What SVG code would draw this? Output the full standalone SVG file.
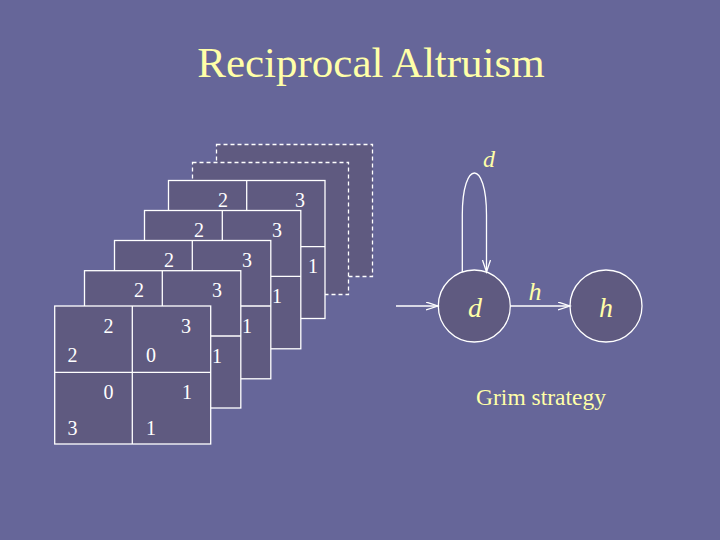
<svg xmlns="http://www.w3.org/2000/svg" width="720" height="540" viewBox="0 0 720 540" font-family="Liberation Serif, Times New Roman, DejaVu Serif, serif">
<defs>
<style>
.bg{fill:#666699}
.box{fill:#5f5a80;stroke:#ffffff;stroke-width:1.3}
.dash{fill:#5f5a80;stroke:#ffffff;stroke-width:1.3;stroke-dasharray:4 3}
.ln{stroke:#ffffff;stroke-width:1.3;fill:none}
.num{font-size:20px;fill:#ffffff;text-anchor:middle}
.lab{font-style:italic;fill:#ffffa8;text-anchor:middle}
.st{fill:#5f5a80;stroke:#ffffff;stroke-width:1.3}
</style>
<marker id="arr" markerUnits="userSpaceOnUse" markerWidth="14" markerHeight="10" refX="12" refY="4" orient="auto">
<path d="M0,0 L12,4 L0,8" fill="none" stroke="#ffffff" stroke-width="1.3"/>
</marker>
</defs>
<rect class="bg" x="0" y="0" width="720" height="540"/>
<text x="371" y="77" font-size="43" fill="#ffffa8" text-anchor="middle">Reciprocal Altruism</text>

<g id="matrix7"><rect class="dash" x="216.5" y="144.5" width="156" height="132"/></g>
<g id="matrix6"><rect class="dash" x="192.5" y="162.5" width="156" height="132"/></g>
<g id="matrix5">
<rect class="box" x="168.5" y="180.5" width="156.5" height="138"/>
<line class="ln" x1="246.7" y1="180.5" x2="246.7" y2="246.7"/>
<line class="ln" x1="246.7" y1="246.7" x2="325" y2="246.7"/>
<text class="num" x="223" y="207">2</text><text class="num" x="300" y="207">3</text><text class="num" x="313" y="273">1</text>
</g>
<g id="matrix4">
<rect class="box" x="144.5" y="210.5" width="156.3" height="138.3"/>
<line class="ln" x1="222.3" y1="210.5" x2="222.3" y2="276.3"/>
<line class="ln" x1="222.3" y1="276.3" x2="300.8" y2="276.3"/>
<text class="num" x="199" y="237">2</text><text class="num" x="277" y="237">3</text><text class="num" x="277" y="303">1</text>
</g>
<g id="matrix3">
<rect class="box" x="114.5" y="240.5" width="156.3" height="138.3"/>
<line class="ln" x1="192.3" y1="240.5" x2="192.3" y2="306"/>
<line class="ln" x1="192.3" y1="306" x2="270.8" y2="306"/>
<text class="num" x="169" y="267">2</text><text class="num" x="247" y="267">3</text><text class="num" x="247" y="333">1</text>
</g>
<g id="matrix2">
<rect class="box" x="84.5" y="270.7" width="156.3" height="137.3"/>
<line class="ln" x1="162.3" y1="270.7" x2="162.3" y2="306"/>
<line class="ln" x1="162.3" y1="336" x2="240.8" y2="336"/>
<text class="num" x="139" y="297">2</text><text class="num" x="217" y="297">3</text><text class="num" x="217" y="363">1</text>
</g>
<g id="matrix1">
<rect class="box" x="54.7" y="306" width="156" height="138"/>
<line class="ln" x1="132.3" y1="306" x2="132.3" y2="444"/>
<line class="ln" x1="54.7" y1="372.3" x2="210.7" y2="372.3"/>
<text class="num" x="108.5" y="333">2</text><text class="num" x="186" y="333">3</text>
<text class="num" x="72.5" y="362">2</text><text class="num" x="151" y="362">0</text>
<text class="num" x="108.5" y="399">0</text><text class="num" x="187" y="399">1</text>
<text class="num" x="72.5" y="435">3</text><text class="num" x="151" y="435">1</text>
</g>

<g id="state-d"><circle class="st" cx="474.3" cy="306" r="36"/><text class="lab" x="475" y="317" font-size="28">d</text></g>
<g id="state-h"><circle class="st" cx="606" cy="306" r="36"/><text class="lab" x="606" y="317" font-size="28">h</text></g>

<g id="connectors">
<line class="ln" x1="396" y1="306" x2="438" y2="306" marker-end="url(#arr)"/>
<line class="ln" x1="510.3" y1="306" x2="570" y2="306" marker-end="url(#arr)"/>
<path class="ln" d="M462.3,272 L462.3,215 C462.3,159 486.5,159 486.5,215 L486.5,272" marker-end="url(#arr)"/>
<text class="lab" x="489" y="167" font-size="24">d</text>
<text class="lab" x="535" y="300" font-size="26">h</text>
</g>
<text x="541" y="405" font-size="23.5" fill="#ffffa8" text-anchor="middle">Grim strategy</text>
</svg>
